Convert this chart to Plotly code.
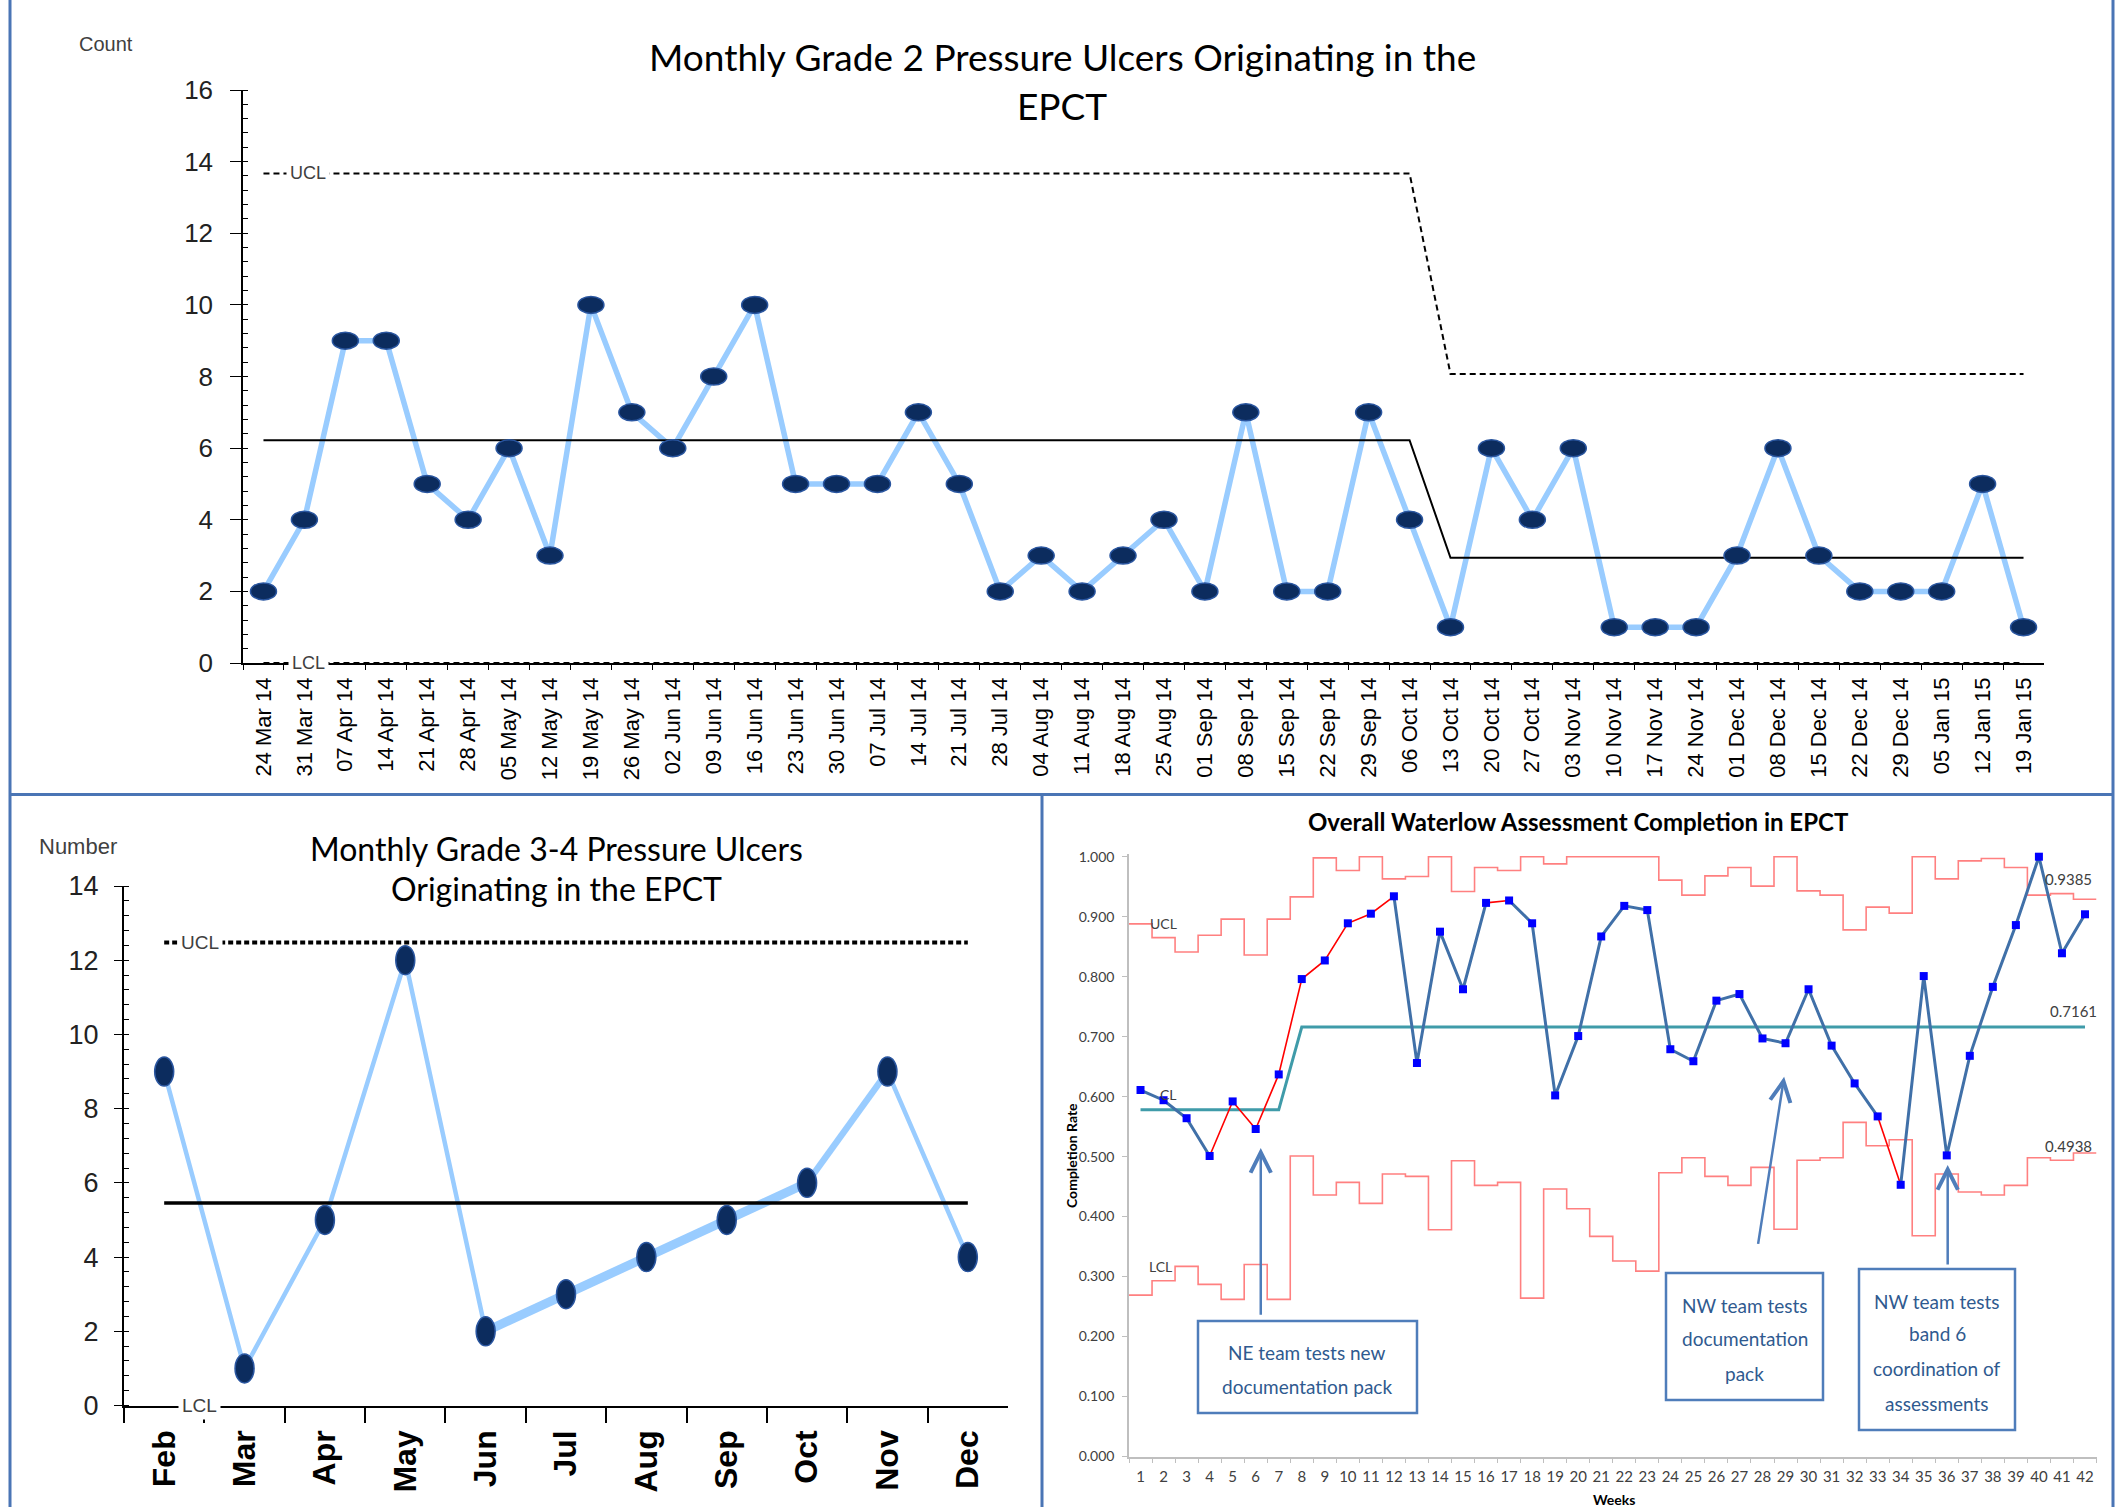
import plotly.graph_objects as go

W, H = 2127, 1507


def px(x):
    return x / W


def py(y):
    return 1 - y / H


# ---------------- Data: Grade 2 chart (top) ----------------
g2_weeks = ["24 Mar 14", "31 Mar 14", "07 Apr 14", "14 Apr 14", "21 Apr 14", "28 Apr 14",
            "05 May 14", "12 May 14", "19 May 14", "26 May 14", "02 Jun 14", "09 Jun 14",
            "16 Jun 14", "23 Jun 14", "30 Jun 14", "07 Jul 14", "14 Jul 14", "21 Jul 14",
            "28 Jul 14", "04 Aug 14", "11 Aug 14", "18 Aug 14", "25 Aug 14", "01 Sep 14",
            "08 Sep 14", "15 Sep 14", "22 Sep 14", "29 Sep 14", "06 Oct 14", "13 Oct 14",
            "20 Oct 14", "27 Oct 14", "03 Nov 14", "10 Nov 14", "17 Nov 14", "24 Nov 14",
            "01 Dec 14", "08 Dec 14", "15 Dec 14", "22 Dec 14", "29 Dec 14", "05 Jan 15",
            "12 Jan 15", "19 Jan 15"]
g2_counts = [2, 4, 9, 9, 5, 4, 6, 3, 10, 7, 6, 8, 10, 5, 5, 5, 7, 5, 2, 3, 2, 3,
             4, 2, 7, 2, 2, 7, 4, 1, 6, 4, 6, 1, 1, 1, 3, 6, 3, 2, 2, 2, 5, 1]
g2_phase_start = ["24 Mar 14", "13 Oct 14"]
g2_cl = [6.22, 2.94]
g2_ucl = [13.67, 8.07]
g2_lcl = [0.0, 0.0]

# ---------------- Data: Grade 3-4 chart (bottom left) ----------------
g34_months = ["Feb", "Mar", "Apr", "May", "Jun", "Jul", "Aug", "Sep", "Oct", "Nov", "Dec"]
g34_counts = [9, 1, 5, 12, 2, 3, 4, 5, 6, 9, 4]
g34_cl = 5.46
g34_ucl = 12.48
g34_lcl = 0.0
g34_thick_run = ["Jun", "Jul", "Aug", "Sep", "Oct"]
g34_mid_run = ["Oct", "Nov"]

# ---------------- Data: Waterlow chart (bottom right) ----------------
wl_weeks = list(range(1, 43))
wl_rate = [0.611, 0.594, 0.564, 0.501, 0.592, 0.546, 0.637, 0.796, 0.827, 0.889,
           0.905, 0.934, 0.656, 0.875, 0.779, 0.923, 0.927, 0.889, 0.602, 0.701,
           0.867, 0.918, 0.911, 0.679, 0.659, 0.760, 0.771, 0.697, 0.689, 0.779,
           0.685, 0.622, 0.567, 0.453, 0.801, 0.502, 0.668, 0.783, 0.886, 1.000,
           0.839, 0.904]
wl_ucl = [0.888, 0.865, 0.841, 0.869, 0.896, 0.836, 0.896, 0.933, 0.998, 0.977,
          1.000, 0.963, 0.967, 1.000, 0.942, 0.982, 0.977, 1.000, 0.988, 1.000,
          1.000, 1.000, 1.000, 0.961, 0.936, 0.968, 0.982, 0.951, 1.000, 0.943,
          0.936, 0.878, 0.916, 0.906, 1.000, 0.963, 0.993, 0.997, 0.982, 0.936,
          0.9385, 0.929]
wl_lcl = [0.269, 0.293, 0.317, 0.287, 0.262, 0.320, 0.262, 0.501, 0.436, 0.457,
          0.422, 0.471, 0.467, 0.378, 0.493, 0.452, 0.457, 0.264, 0.446, 0.413,
          0.367, 0.326, 0.309, 0.473, 0.498, 0.467, 0.452, 0.482, 0.379, 0.494,
          0.498, 0.557, 0.518, 0.528, 0.368, 0.471, 0.441, 0.436, 0.452, 0.498,
          0.4938, 0.506]
wl_phase_start = [1, 8]
wl_cl = [0.578, 0.7161]
wl_red_from = [4, 5, 6, 7, 8, 9, 10, 11, 16, 33]
wl_value_labels = ["0.9385", "0.7161", "0.4938"]
wl_notes = [["NE team tests new", "documentation pack"],
            ["NW team tests", "documentation", "pack"],
            ["NW team tests", "band 6", "coordination of", "assessments"]]

# ---------------- styles ----------------
ARIAL = "Liberation Sans, Arial, sans-serif"
CALIBRI = "Lato, Carlito, Calibri, sans-serif"
NAVY = "#0C2C5E"
NAVY_EDGE = "#2A56A0"
LIGHT = "#99CCFF"
BORDER = "#4A75B5"
NOTE_BLUE = "#4F7DBA"
NOTE_TEXT = "#2F5A8F"
GREY_TXT = "#404040"


def phase_series(cats, starts, values):
    out = []
    idx = [cats.index(s) for s in starts]
    for i in range(len(cats)):
        k = 0
        for j, s in enumerate(idx):
            if i >= s:
                k = j
        out.append(values[k])
    return out


fig = go.Figure()

# ===== Top chart =====
fig.add_trace(go.Scatter(x=g2_weeks, y=g2_counts, mode="lines",
                         line=dict(color=LIGHT, width=5.5), xaxis="x", yaxis="y",
                         hoverinfo="skip"))
fig.add_trace(go.Scatter(x=g2_weeks, y=phase_series(g2_weeks, g2_phase_start, g2_cl),
                         mode="lines", line=dict(color="black", width=2),
                         xaxis="x", yaxis="y", hoverinfo="skip"))
fig.add_trace(go.Scatter(x=g2_weeks, y=phase_series(g2_weeks, g2_phase_start, g2_ucl),
                         mode="lines", line=dict(color="black", width=2, dash="6px,4px"),
                         xaxis="x", yaxis="y", hoverinfo="skip"))
fig.add_trace(go.Scatter(x=g2_weeks, y=phase_series(g2_weeks, g2_phase_start, g2_lcl),
                         mode="lines", line=dict(color="black", width=2, dash="6px,4px"),
                         xaxis="x", yaxis="y", hoverinfo="skip", cliponaxis=False))

shapes = []
for w, c in zip(g2_weeks, g2_counts):
    shapes.append(dict(type="circle", xref="x", yref="y", xsizemode="pixel", ysizemode="pixel",
                       xanchor=w, yanchor=c, x0=-13, x1=13, y0=-8.5, y1=8.5,
                       fillcolor=NAVY, line=dict(color=NAVY_EDGE, width=1.5), layer="above"))

# ===== Bottom-left chart =====
fig.add_trace(go.Scatter(x=g34_months, y=g34_counts, mode="lines",
                         line=dict(color=LIGHT, width=4.5), xaxis="x2", yaxis="y2",
                         hoverinfo="skip"))
thick_y = [g34_counts[g34_months.index(m)] for m in g34_thick_run]
fig.add_trace(go.Scatter(x=g34_thick_run, y=thick_y, mode="lines",
                         line=dict(color=LIGHT, width=9), xaxis="x2", yaxis="y2",
                         hoverinfo="skip"))
mid_y = [g34_counts[g34_months.index(m)] for m in g34_mid_run]
fig.add_trace(go.Scatter(x=g34_mid_run, y=mid_y, mode="lines",
                         line=dict(color=LIGHT, width=6.5), xaxis="x2", yaxis="y2",
                         hoverinfo="skip"))
fig.add_trace(go.Scatter(x=[g34_months[0], g34_months[-1]], y=[g34_cl, g34_cl], mode="lines",
                         line=dict(color="black", width=3.5), xaxis="x2", yaxis="y2",
                         hoverinfo="skip"))
fig.add_trace(go.Scatter(x=[g34_months[0], g34_months[-1]], y=[g34_ucl, g34_ucl], mode="lines",
                         line=dict(color="black", width=4, dash="5px,3px"), xaxis="x2",
                         yaxis="y2", hoverinfo="skip"))
for m, c in zip(g34_months, g34_counts):
    shapes.append(dict(type="circle", xref="x2", yref="y2", xsizemode="pixel", ysizemode="pixel",
                       xanchor=m, yanchor=c, x0=-9.5, x1=9.5, y0=-14.5, y1=14.5,
                       fillcolor=NAVY, line=dict(color=NAVY_EDGE, width=1.5), layer="above"))

# ===== Bottom-right chart =====
bounds = [w - 0.5 for w in wl_weeks] + [wl_weeks[-1] + 0.5]
fig.add_trace(go.Scatter(x=bounds, y=wl_ucl + [wl_ucl[-1]], mode="lines", line_shape="hv",
                         line=dict(color="#FF8080", width=1.6), xaxis="x3", yaxis="y3",
                         hoverinfo="skip"))
fig.add_trace(go.Scatter(x=bounds, y=wl_lcl + [wl_lcl[-1]], mode="lines", line_shape="hv",
                         line=dict(color="#FF8080", width=1.6), xaxis="x3", yaxis="y3",
                         hoverinfo="skip"))
wl_cl_series = phase_series(wl_weeks, wl_phase_start, wl_cl)
fig.add_trace(go.Scatter(x=wl_weeks, y=wl_cl_series, mode="lines",
                         line=dict(color="#3F9BA9", width=3), xaxis="x3", yaxis="y3",
                         hoverinfo="skip"))


def segments(want_red):
    xs, ys = [], []
    for i in range(len(wl_weeks) - 1):
        red = wl_weeks[i] in wl_red_from
        if red != want_red:
            continue
        if xs and xs[-1] == wl_weeks[i]:
            xs.append(wl_weeks[i + 1]); ys.append(wl_rate[i + 1])
        else:
            if xs:
                xs.append(None); ys.append(None)
            xs += [wl_weeks[i], wl_weeks[i + 1]]
            ys += [wl_rate[i], wl_rate[i + 1]]
    return xs, ys


bx, by = segments(False)
fig.add_trace(go.Scatter(x=bx, y=by, mode="lines", line=dict(color="#4070A8", width=3),
                         xaxis="x3", yaxis="y3", hoverinfo="skip"))
rx, ry = segments(True)
fig.add_trace(go.Scatter(x=rx, y=ry, mode="lines", line=dict(color="#FF0000", width=1.6),
                         xaxis="x3", yaxis="y3", hoverinfo="skip"))
fig.add_trace(go.Scatter(x=wl_weeks, y=wl_rate, mode="markers",
                         marker=dict(symbol="square", size=8, color="#0000FF"),
                         xaxis="x3", yaxis="y3", hoverinfo="skip", cliponaxis=False))


# ===== Panel borders =====
def vline(x, y0, y1):
    return dict(type="line", xref="paper", yref="paper", x0=px(x), x1=px(x), y0=py(y0), y1=py(y1),
                line=dict(color=BORDER, width=3), layer="above")


def hline(y, x0, x1):
    return dict(type="line", xref="paper", yref="paper", x0=px(x0), x1=px(x1), y0=py(y), y1=py(y),
                line=dict(color=BORDER, width=3), layer="above")


shapes += [vline(10, 0, H), vline(2113, 0, H), hline(794.5, 10, 2113), vline(1042, 794.5, H)]

# Note boxes (bottom-right)
note_boxes = [(1198, 1321, 1417, 1413), (1666, 1273, 1823, 1400), (1859, 1269, 2015, 1430)]
for (x0, y0, x1, y1) in note_boxes:
    shapes.append(dict(type="rect", xref="paper", yref="paper", x0=px(x0), x1=px(x1),
                       y0=py(y1), y1=py(y0), line=dict(color=NOTE_BLUE, width=2.5),
                       fillcolor="white", layer="above"))

annotations = []


def ann(text, x, y, size, family, color="black", xref="paper", yref="paper", **kw):
    d = dict(text=text, x=x, y=y, xref=xref, yref=yref, showarrow=False,
             font=dict(size=size, family=family, color=color), xanchor="center", yanchor="middle")
    d.update(kw)
    annotations.append(d)


# Titles and axis labels
ann("Monthly Grade 2 Pressure Ulcers Originating in the", px(1062), py(57), 37, CALIBRI)
ann("EPCT", px(1062), py(105), 37, CALIBRI)
ann("Count", px(106), py(44), 20, ARIAL, GREY_TXT)
ann("UCL", 1.1, g2_ucl[0], 18, ARIAL, GREY_TXT, xref="x", yref="y", bgcolor="white", borderpad=3)
ann("LCL", 1.1, g2_lcl[0], 18, ARIAL, GREY_TXT, xref="x", yref="y", bgcolor="white", borderpad=3)

ann("Monthly Grade 3-4 Pressure Ulcers", px(556), py(848), 32, CALIBRI)
ann("Originating in the EPCT", px(556), py(889), 32, CALIBRI)
ann("Number", px(78), py(846), 22, ARIAL, GREY_TXT)
ann("UCL", 0.44, g34_ucl, 19, ARIAL, GREY_TXT, xref="x2", yref="y2", bgcolor="white", borderpad=3)
ann("LCL", 0.44, g34_lcl, 19, ARIAL, GREY_TXT, xref="x2", yref="y2", bgcolor="white", borderpad=3)

ann("<b>Overall Waterlow Assessment Completion in EPCT</b>", px(1578), py(822), 24, CALIBRI)
ann("<b>Completion Rate</b>", px(1071), py(1156), 14, CALIBRI, textangle=-90)
ann("<b>Weeks</b>", px(1614), py(1499), 14, CALIBRI)
ann("UCL", 1.99, 0.888, 14, CALIBRI, GREY_TXT, xref="x3", yref="y3")
ann("CL", 2.22, 0.603, 14, CALIBRI, GREY_TXT, xref="x3", yref="y3")
ann("LCL", 1.88, 0.317, 14, CALIBRI, GREY_TXT, xref="x3", yref="y3")
ann(wl_value_labels[0], 41.3, 0.963, 15, CALIBRI, GREY_TXT, xref="x3", yref="y3")
ann(wl_value_labels[1], 41.5, 0.742, 15, CALIBRI, GREY_TXT, xref="x3", yref="y3")
ann(wl_value_labels[2], 41.3, 0.518, 15, CALIBRI, GREY_TXT, xref="x3", yref="y3")

# Note texts
note_centers = [(1307, [1352, 1386]), (1745, [1305, 1338, 1373]), (1937, [1301, 1333, 1368, 1403])]
for lines, (cx, ys) in zip(wl_notes, note_centers):
    for t, yy in zip(lines, ys):
        ann(t, px(cx), py(yy), 19, CALIBRI, NOTE_TEXT)

# Arrows (head x, head y, tail x, tail y) in chart coordinates
note_arrows = [(6.22, 0.5145, 6.22, 0.234), (28.94, 0.633, 27.8, 0.352), (36.04, 0.486, 36.04, 0.3175)]
for (hx, hy, tx, ty) in note_arrows:
    annotations.append(dict(x=hx, y=hy, ax=tx, ay=ty, xref="x3", yref="y3", axref="x3", ayref="y3",
                            text="", showarrow=True, arrowhead=5, arrowsize=1.6, arrowwidth=2.5,
                            arrowcolor=NOTE_BLUE, standoff=0, startstandoff=0))

fig.update_layout(
    width=W, height=H, margin=dict(l=0, r=0, t=0, b=0, autoexpand=False),
    paper_bgcolor="white", plot_bgcolor="white", showlegend=False,
    shapes=shapes, annotations=annotations,
    xaxis=dict(domain=[px(243), px(2044)], anchor="y", type="category", automargin=False,
               categoryorder="array", categoryarray=g2_weeks, range=[-0.5, 43.5],
               tickson="boundaries", ticks="outside", ticklen=5, tickcolor="black",
               showline=True, linecolor="black", linewidth=1.5, showgrid=False,
               tickangle=-90, tickfont=dict(family=ARIAL, size=22, color="black"),
               ticklabelstandoff=4),
    yaxis=dict(domain=[py(663), py(90)], anchor="x", range=[0, 16], dtick=2, automargin=False,
               ticks="outside", ticklen=11, tickcolor="black", showline=True,
               linecolor="black", linewidth=1.5, showgrid=False, zeroline=False,
               minor=dict(ticks="inside", ticklen=5, dtick=0.4, tickcolor="black", showgrid=False),
               tickfont=dict(family=ARIAL, size=26, color="#222222"), ticklabelstandoff=12),
    xaxis2=dict(domain=[px(124), px(1008)], anchor="y2", type="category", automargin=False,
                categoryorder="array", categoryarray=g34_months, range=[-0.5, 10.5],
                tickson="boundaries", ticks="outside", ticklen=15, tickwidth=1.5,
                tickcolor="black", showline=True, linecolor="black", linewidth=2,
                showgrid=False, tickangle=-90,
                tickfont=dict(family=ARIAL, size=32, color="black", weight="bold"),
                ticklabelstandoff=10),
    yaxis2=dict(domain=[py(1405.5), py(886)], anchor="x2", range=[0, 14], dtick=2, automargin=False,
                ticks="outside", ticklen=8, tickcolor="black", showline=True,
                linecolor="black", linewidth=2, showgrid=False, zeroline=False,
                minor=dict(ticks="inside", ticklen=5, dtick=0.4, tickcolor="black", showgrid=False),
                tickfont=dict(family=ARIAL, size=27, color="#222222"), ticklabelstandoff=10),
    xaxis3=dict(domain=[px(1129), px(2096.5)], anchor="y3", range=[0.5, 42.5], automargin=False,
                tickvals=wl_weeks, ticktext=[str(w) for w in wl_weeks], ticks="",
                showline=True, linecolor="#BFBFBF", linewidth=1.5, showgrid=False, zeroline=False,
                minor=dict(ticks="outside", ticklen=5, tick0=0.5, dtick=1, tickcolor="#BFBFBF",
                           showgrid=False),
                tickfont=dict(family=CALIBRI, size=15, color=GREY_TXT), ticklabelstandoff=6),
    yaxis3=dict(domain=[py(1456.5), py(854.3)], anchor="x3", range=[0, 1.004], automargin=False,
                tickvals=[i / 10 for i in range(11)], tickformat=".3f", ticks="outside",
                ticklen=5, tickcolor="#BFBFBF", showline=True, linecolor="#BFBFBF",
                linewidth=1.5, showgrid=False, zeroline=False,
                tickfont=dict(family=CALIBRI, size=14, color=GREY_TXT), ticklabelstandoff=5),
)

fig.write_html("out.html", config={"displayModeBar": False},
               post_script="document.body.style.margin='0';")
